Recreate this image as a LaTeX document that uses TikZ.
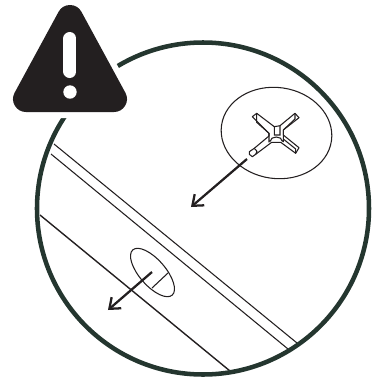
\documentclass[tikz,border=0pt]{standalone}
\usepackage{xcolor}
\definecolor{ringgreen}{HTML}{24362F}
\definecolor{signblack}{HTML}{231F20}
\usetikzlibrary{arrows.meta}
\tikzset{
	thinline/.style={draw=signblack, line width=0.8pt},
	midline/.style={draw=signblack, line width=1.05pt},
	pointer/.style={draw=signblack, line width=1.7pt, -{Straight Barb[length=7pt,width=11pt,line width=1.7pt]}},
}
\begin{document}
\begin{tikzpicture}[x=0.75pt, y=-0.75pt]
	\useasboundingbox (0,0) rectangle (378,380);
	% panel edges
	\draw[thinline] (54,144) -- (297,343);
	\draw[thinline] (51,154) -- (288,349);
	\draw[midline] (40,215) -- (230,371);

	% ring
	\draw[ringgreen, line width=3.4pt] (203,208.5) circle (166);

	% hole in the panel
	\draw[thinline, rotate around={-49:(152.5,272.5)}] (152.5,272.5) ellipse (30 and 13);
	\draw[thinline] (152,288) -- (168,273);
	\draw[pointer] (152,272) -- (108,310);

	% screw detail
	\draw[thinline, rotate around={-8:(276.5,133)}] (276.5,133) ellipse (55.5 and 45.5);
	\draw[thinline, line join=round]
		(252.3,116.7) -- (256.7,113.3) -- (274.3,126.7) -- (280,125.7) -- (295,113.3) -- (299,117.7) -- (283.3,130)
		-- (283.3,135) -- (299,147.7) -- (295.7,153.3) -- (280.7,142.3)
		-- (271.7,142.3) -- (255.7,154.3) -- (252.3,156.7) -- (249.3,154.3) -- (249.3,151.7) -- (254.3,148.3) -- (269,136)
		-- (269,133.3) -- cycle;
	\draw[thinline] (256.7,113.3) -- (256.7,122.3) -- (269,133.3)
		(274.3,126.7) -- (274.3,135) -- (280,135) -- (280,125.7)
		(269,133.3) -- (269,142.3)
		(295,113.3) -- (295,119) -- (283.3,130)
		(283.3,130) -- (283.3,142)
		(283.3,139) -- (295.7,149) -- (295.7,153.3)
		(270,141.5) .. controls (270.5,135.5) and (282,135.5) .. (282.5,141.5)
		(254.3,148.3) -- (257,151.3) -- (255.7,154.3);
	\draw[pointer] (247,159) -- (191,207);

	% warning sign
	\draw[white, fill=white, line width=28.5pt, line join=round]
		(70,18) -- (26,99) -- (114,99) -- cycle;
	\draw[signblack, fill=signblack, line width=19.5pt, line join=round]
		(70,18) -- (26,99) -- (114,99) -- cycle;
	\draw[white, line width=9.75pt, line cap=round] (70,38.5) -- (70,71.5);
	\fill[white] (70,92) circle (6.7);
\end{tikzpicture}
\end{document}
